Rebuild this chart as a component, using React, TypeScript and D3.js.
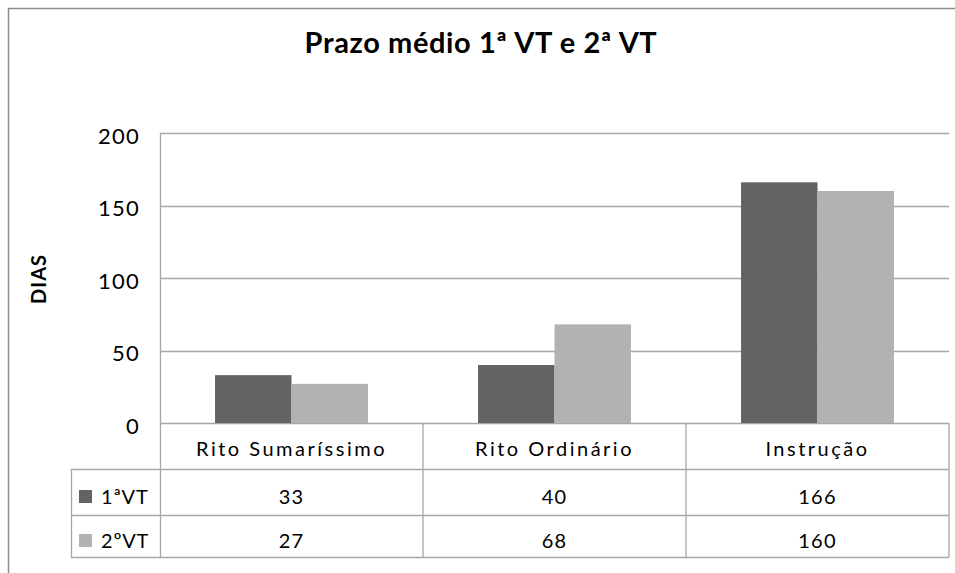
import React, { useRef, useEffect } from 'react';
import * as d3 from 'd3';

// chart data
const categories = ['Rito Sumaríssimo', 'Rito Ordinário', 'Instrução'];
const seriesNames = ['1ªVT', '2ºVT'];
const values1 = [33, 40, 166];
const values2 = [27, 68, 160];
const yTicks = [0, 50, 100, 150, 200];
const colors = ['#636363', '#b2b2b2'];

const App = () => {
    const svgRef = useRef<SVGSVGElement>(null);

    useEffect(() => {
        const svg = d3.select(svgRef.current);
        svg.selectAll('*').remove();

        const width = 955;
        const height = 573;
        const font = 'Lato, "Open Sans", sans-serif';
        const lineColor = '#a6a6a6';
        const plot = { left: 160, right: 949, top: 133, bottom: 423 };
        const tableLeft = 71;
        const rowLines = [423, 469, 515, 557];

        svg.append('rect').attr('width', width).attr('height', height).attr('fill', '#fff');

        // outer chart border (left and top only visible)
        svg.append('path')
            .attr('d', `M8.5,${height} V8.5 H${width}`)
            .attr('fill', 'none')
            .attr('stroke', '#8c8c8c')
            .attr('stroke-width', 1.5);

        // title
        svg.append('text')
            .attr('x', 481)
            .attr('y', 53)
            .attr('text-anchor', 'middle')
            .attr('font-family', font)
            .attr('font-weight', 'bold')
            .attr('font-size', 29)
            .attr('letter-spacing', 0.6)
            .attr('fill', '#000')
            .text('Prazo médio 1ª VT e 2ª VT');

        const x0 = d3.scaleBand()
            .domain(categories)
            .range([plot.left, plot.right])
            .padding(0);

        const x1 = d3.scaleBand()
            .domain(seriesNames)
            .range([0, x0.bandwidth()])
            .paddingInner(0)
            .paddingOuter(0.72);

        const y = d3.scaleLinear()
            .domain([0, 200])
            .range([plot.bottom, plot.top]);

        // gridlines
        svg.append('g')
            .selectAll('line')
            .data(yTicks)
            .join('line')
            .attr('x1', plot.left)
            .attr('x2', plot.right)
            .attr('y1', d => Math.round(y(d)) + 0.5)
            .attr('y2', d => Math.round(y(d)) + 0.5)
            .attr('stroke', lineColor)
            .attr('stroke-width', 1.3);

        // y tick labels
        svg.append('g')
            .selectAll('text')
            .data(yTicks)
            .join('text')
            .attr('x', 140)
            .attr('y', d => y(d) + 10.5)
            .attr('text-anchor', 'end')
            .attr('font-family', font)
            .attr('font-size', 22)
            .attr('letter-spacing', 1.2)
            .attr('fill', '#000')
            .text(d => d);

        // y axis title
        svg.append('text')
            .attr('transform', 'translate(46,279) rotate(-90)')
            .attr('text-anchor', 'middle')
            .attr('font-family', font)
            .attr('font-weight', 'bold')
            .attr('font-size', 20)
            .attr('letter-spacing', 1)
            .attr('fill', '#000')
            .text('DIAS');

        // bars
        const series = [values1, values2];
        series.forEach((vals, si) => {
            svg.append('g')
                .attr('fill', colors[si])
                .selectAll('rect')
                .data(vals)
                .join('rect')
                .attr('x', (d, i) => x0(categories[i])! + x1(seriesNames[si])!)
                .attr('y', d => y(d))
                .attr('width', x1.bandwidth())
                .attr('height', d => y(0) - y(d));
        });

        // data table lines
        const table = svg.append('g').attr('stroke', lineColor).attr('stroke-width', 1.3);
        // y axis line continuing down through table
        table.append('line')
            .attr('x1', plot.left + 0.5).attr('x2', plot.left + 0.5)
            .attr('y1', plot.top).attr('y2', rowLines[3]);
        rowLines.slice(1).forEach(ry => {
            table.append('line')
                .attr('x1', tableLeft).attr('x2', plot.right)
                .attr('y1', ry + 0.5).attr('y2', ry + 0.5);
        });
        table.append('line')
            .attr('x1', tableLeft + 0.5).attr('x2', tableLeft + 0.5)
            .attr('y1', rowLines[1]).attr('y2', rowLines[3]);
        categories.forEach(c => {
            const xr = x0(c)! + x0.bandwidth();
            table.append('line')
                .attr('x1', xr).attr('x2', xr)
                .attr('y1', rowLines[0]).attr('y2', rowLines[3]);
        });

        // category header
        svg.append('g')
            .selectAll('text')
            .data(categories)
            .join('text')
            .attr('x', d => x0(d)! + x0.bandwidth() / 2)
            .attr('y', 456)
            .attr('text-anchor', 'middle')
            .attr('font-family', font)
            .attr('font-size', 20)
            .attr('letter-spacing', 2.5)
            .attr('fill', '#000')
            .text(d => d);

        // rows
        series.forEach((vals, si) => {
            const top = rowLines[si + 1];
            const mid = (top + rowLines[si + 2]) / 2;
            svg.append('rect')
                .attr('x', 79)
                .attr('y', mid - 2)
                .attr('width', 13)
                .attr('height', 13)
                .attr('fill', colors[si]);
            svg.append('text')
                .attr('x', 101)
                .attr('y', mid + 12)
                .attr('font-family', font)
                .attr('font-size', 20)
                .attr('letter-spacing', 0.8)
                .attr('fill', '#000')
                .text(seriesNames[si]);
            svg.append('g')
                .selectAll('text')
                .data(vals)
                .join('text')
                .attr('x', (d, i) => x0(categories[i])! + x0.bandwidth() / 2)
                .attr('y', mid + 12)
                .attr('text-anchor', 'middle')
                .attr('font-family', font)
                .attr('font-size', 20)
                .attr('letter-spacing', 1.2)
                .attr('fill', '#000')
                .text(d => d);
        });
    }, []);

    return (
        <svg
            ref={svgRef}
            width={955}
            height={573}
            style={{ position: 'absolute', left: 0, top: 0 }}
        ></svg>
    );
};

export default App;
